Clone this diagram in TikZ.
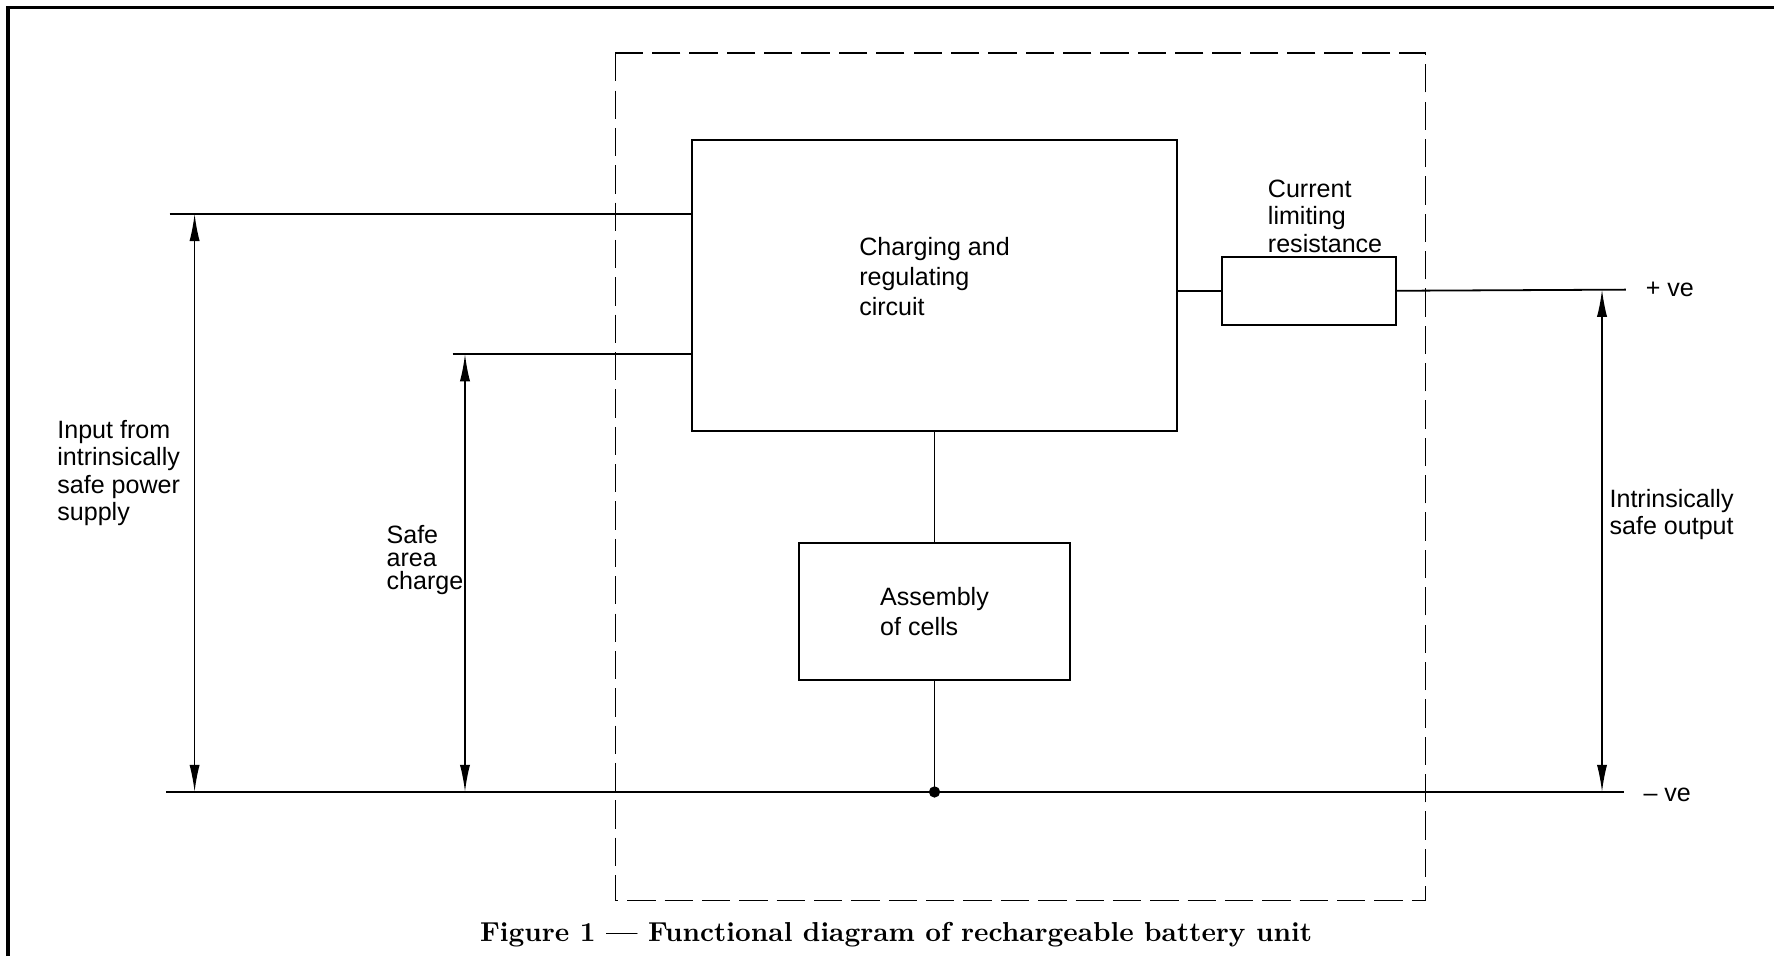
\documentclass[tikz,border=0pt]{standalone}
\usepackage{fontspec}
\usepackage{tikz}
\usetikzlibrary{positioning}
\usetikzlibrary{arrows.meta}
\usetikzlibrary{calc}
\usetikzlibrary{math}
\newfontfamily\lblfont{Liberation Sans}

\tikzset{
  block/.style={draw, line width=0.45pt, inner sep=0pt, align=left,
    font=\lblfont\fontsize{6.3}{7.6}\selectfont},
  lbl/.style={inner sep=0pt, align=left, font=\lblfont\fontsize{6.3}{6.9}\selectfont},
  wire/.style={line width=0.45pt},
  dim/.style={line width=0.4pt,
    {Latex[length=2.4mm,width=0.9mm]}-{Latex[length=2.4mm,width=0.9mm]}},
}

\begin{document}
\begin{tikzpicture}[x=0.01cm,y=-0.01cm]

  \tikzmath{
    \dotradius = 5;    % radius of the junction dot
    \railY     = 700;  % height of the - ve rail
  }

  \useasboundingbox (0,0) rectangle (1568,845);

  % page frame (top and left only)
  \draw[line width=0.8pt] (7,845) -- (7,6.5) -- (1568,6.5);

  % outline of the unit
  \draw[dashed, dash pattern=on 0.25cm off 0.08cm, line width=0.4pt]
    (544,47) rectangle (1260,796);

  % blocks
  \node[block, minimum width=4.28cm, minimum height=2.57cm, text depth=0.16cm] (chg) at (826,252.5)
    {Charging and\\regulating\\circuit};
  \node[block, minimum width=2.40cm, minimum height=1.21cm] (cells) at (826,540.5)
    {Assembly\\of cells};
  \node[block, minimum width=1.54cm, minimum height=0.60cm] (res) at (1157,257) {};

  % free ends of the wires
  \coordinate (in1)  at (150,189);
  \coordinate (in2)  at (400,313);
  \coordinate (negL) at (147,\railY);
  \coordinate (negR) at (1435,\railY);
  \coordinate (posR) at (1437,256);
  \coordinate (jn)   at (cells.south |- negL);

  % wiring
  \draw[wire] (in1) -- (in1 -| chg.west);
  \draw[wire] (in2) -- (in2 -| chg.west);
  \draw[wire] (chg.south) -- (cells.north);
  \draw[wire] (cells.south) -- (jn);
  \draw[wire] (negL) -- (negR);
  \draw[wire] (res.west -| chg.east) -- (res.west);
  \draw[wire] (res.east) -- (posR);
  \fill (jn) circle [radius=\dotradius];

  % dimension arrows
  \coordinate (inTop)   at (172,189);
  \coordinate (safeTop) at (411,313);
  \coordinate (outTop)  at (1416,256);
  \draw[dim] (inTop) -- (inTop |- negL);
  \draw[dim] (safeTop) -- (safeTop |- negL);
  \draw[dim] (outTop) -- (outTop |- negR);

  % labels
  \node[lbl, anchor=west] (inLbl) at (50,418)
    {Input from\\intrinsically\\safe power\\supply};
  \node[lbl, anchor=west, font=\lblfont\fontsize{6.3}{5.9}\selectfont] (safeLbl) at (341,495)
    {Safe\\area\\charge};
  \node[lbl, anchor=south west] (resLbl) at (1120,224)
    {Current\\limiting\\resistance};
  \node[lbl, anchor=west] (outLbl) at (1422,455)
    {Intrinsically\\safe output};
  \node[lbl, anchor=west] (posLbl) at (1454,256) {+ ve};
  \node[lbl, anchor=west] (negLbl) at (1452,703) {– ve};

  % caption
  \node[inner sep=0pt, font=\rmfamily\bfseries] (cap) at (792,826)
    {\resizebox{7.35cm}{!}{Figure 1 — Functional diagram of rechargeable battery unit}};

\end{tikzpicture}
\end{document}
